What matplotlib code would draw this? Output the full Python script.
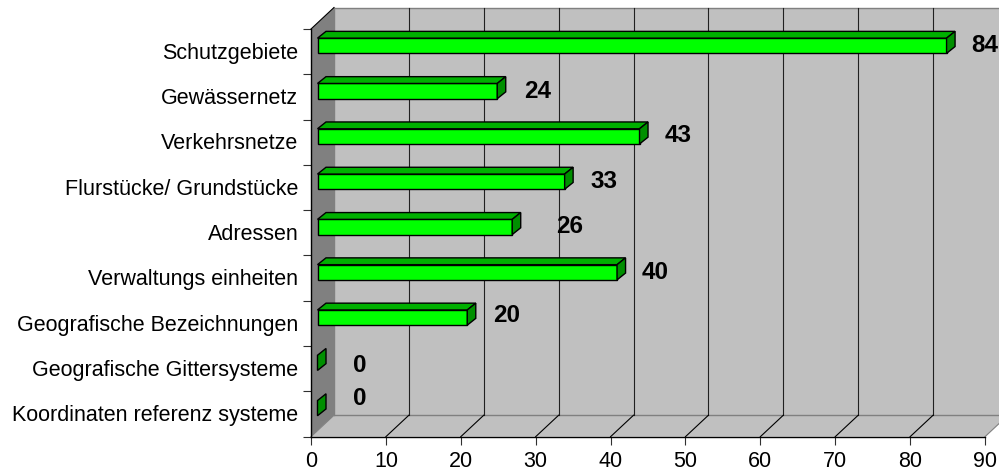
import matplotlib
matplotlib.use("Agg")
import matplotlib.pyplot as plt
from matplotlib.patches import Polygon

plt.rcParams['font.family'] = ['Liberation Sans', 'DejaVu Sans']

categories = ["Schutzgebiete", "Gewässernetz", "Verkehrsnetze", "Flurstücke/ Grundstücke",
              "Adressen", "Verwaltungs einheiten", "Geografische Bezeichnungen",
              "Geografische Gittersysteme", "Koordinaten referenz systeme"]
values = [84, 24, 43, 33, 26, 40, 20, 0, 0]
x_ticks = list(range(0, 100, 10))
label_gap_px = [25, 27, 25, 26, 44, 25, 26, 35, 35]
label_dy_px = [0, 0, -1, 0, 0, 0, -2, 3, -10]

W, H = 999, 475
L, R, T, B = 311.0, 985.0, 29.0, 436.7
fig = plt.figure(figsize=(W / 100, H / 100), dpi=100, facecolor="white")
ax = fig.add_axes([L / W, 1 - B / H, (R - L) / W, (B - T) / H])
ax.set_xlim(0, 90)
ax.set_ylim(len(categories), 0)
ax.patch.set_visible(False)
for s in ax.spines.values():
    s.set_visible(False)

ux = (R - L) / 90
uy = (B - T) / len(categories)
DX, DY = 23 / ux, 21.5 / uy   # wall depth in data units


def poly(pts, fc, ec="none", lw=0.0, z=1):
    ax.add_patch(Polygon(pts, closed=True, fc=fc, ec=ec, lw=lw, zorder=z, clip_on=False,
                         joinstyle="miter"))


n = len(categories)
xmax = 90
# walls and floor
poly([(DX, -DY), (xmax + DX, -DY), (xmax + DX, n - DY), (DX, n - DY)], "#C0C0C0")
poly([(0, 0), (DX, -DY), (DX, n - DY), (0, n)], "#808080")
poly([(0, n), (DX, n - DY), (xmax + DX, n - DY), (xmax, n)], "#C0C0C0")
ax.plot([DX, xmax + DX], [-DY, -DY], color="#808080", lw=1, zorder=2, clip_on=False)
ax.plot([DX, xmax + DX], [n - DY, n - DY], color="#808080", lw=1, zorder=2, clip_on=False)
ax.plot([DX, DX], [-DY, n - DY], color="#808080", lw=1, zorder=2, clip_on=False)
for v in x_ticks[1:]:
    ax.plot([v + DX, v + DX], [-DY, n - DY], color="#202020", lw=0.8, zorder=2, clip_on=False)
for v in x_ticks:
    ax.plot([v, v + DX], [n, n - DY], color="#808080" if v in (0, xmax) else "black",
            lw=0.8, zorder=2, clip_on=False)
ax.plot([0, DX], [0, -DY], color="black", lw=0.8, zorder=2, clip_on=False)

# bars
x0 = 6.5 / ux
bw, bh = 8.5 / ux, 6.8 / uy
half = 7.6 / uy
for i, (c, v) in enumerate(zip(categories, values)):
    yc = i + 0.5 - 0.13
    y1, y2 = yc - half, yc + half
    xe = x0 + v
    edge = dict(ec="black", lw=1.0, z=3)
    if v > 0:
        poly([(x0, y2), (xe, y2), (xe, y1), (x0, y1)], "#00FF00", **edge)
        poly([(x0, y1), (xe, y1), (xe + bw, y1 - bh), (x0 + bw, y1 - bh)], "#00B000", **edge)
    poly([(xe, y1), (xe + bw, y1 - bh), (xe + bw, y2 - bh), (xe, y2)], "#008F00", **edge)
    ax.annotate(str(v), xy=(xe, yc), xytext=(label_gap_px[i] * 0.72, -label_dy_px[i] * 0.72),
                textcoords="offset points", ha="left", va="center", fontsize=17.5,
                fontweight="bold", color="black", zorder=5, annotation_clip=False)

# axes
ax.plot([0, 0], [0, n], color="black", lw=1, zorder=4, clip_on=False)
ax.plot([0, xmax], [n, n], color="black", lw=1, zorder=4, clip_on=False)
ax.set_xticks(x_ticks)
ax.set_xticklabels([str(v) for v in x_ticks], fontsize=15.5)
ax.set_yticks(range(n + 1))
ax.set_yticklabels([])
ax.set_yticks([i + 0.48 for i in range(n)], minor=True)
ax.set_yticklabels(categories, minor=True, fontsize=15.5)
ax.tick_params(axis="y", which="major", length=6, width=0.8, color="#303030")
ax.tick_params(axis="y", which="minor", length=0, pad=9)
ax.tick_params(axis="x", length=5.8, width=0.8, color="#303030", pad=4.2)
fig.savefig("out.png", dpi=100)
